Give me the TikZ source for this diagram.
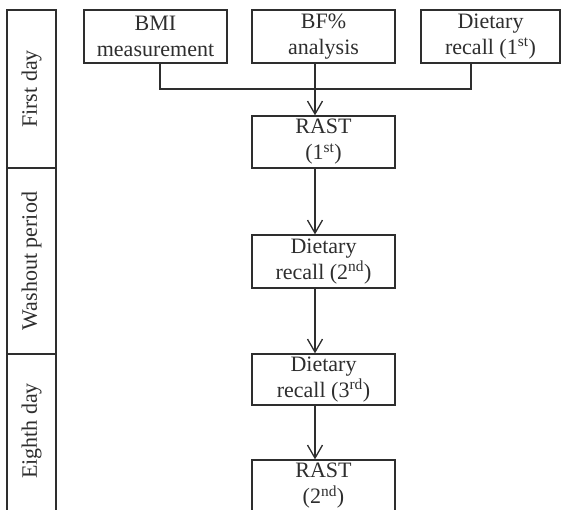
\documentclass[tikz,border=0pt]{standalone}
\usepackage{fontspec}
\setmainfont{Liberation Serif}
\usetikzlibrary{arrows.meta}
\definecolor{ink}{HTML}{2E2E2E}
\tikzset{
  stepbox/.style={draw=ink, line width=1.3pt, inner sep=0pt, align=center,
    minimum width=143pt, text=ink, font=\fontsize{22}{26}\selectfont},
  phase/.style={text=ink, rotate=90, inner sep=0pt, font=\fontsize{22}{26}\selectfont},
  conn/.style={draw=ink, line width=1.3pt},
  arr/.style={conn, -{Straight Barb[length=13pt,width=15pt,line width=1.3pt]}}
}
\begin{document}
\begin{tikzpicture}[x=1pt,y=-1pt]
\useasboundingbox (0,0) rectangle (561,510);
\clip (0,0) rectangle (561,510);
\fill[white] (0,0) rectangle (561,510);
% phase column
\draw[conn] (7,10) rectangle (56,520);
\draw[conn] (7,168) -- (56,168);
\draw[conn] (7,354) -- (56,354);
\node[phase] (p1) at (31.5,89) {First day};
\node[phase] (p2) at (31.5,261) {Washout period};
\node[phase] (p3) at (31.5,431) {Eighth day};
% boxes
\node[stepbox, minimum height=53pt] (bmi) at (155.5,36.5) {BMI\\measurement};
\node[stepbox, minimum height=53pt] (bf) at (323.5,36.5) {BF\%\\analysis};
\node[stepbox, minimum width=139pt, minimum height=53pt] (d1) at (490.5,36.5) {Dietary\\recall (1\textsuperscript{st})};
\node[stepbox, minimum height=52pt] (r1) at (323.5,142) {RAST\\(1\textsuperscript{st})};
\node[stepbox, minimum height=53pt] (d2) at (323.5,261.5) {Dietary\\recall (2\textsuperscript{nd})};
\node[stepbox, minimum height=51pt] (d3) at (323.5,379.5) {Dietary\\recall (3\textsuperscript{rd})};
\node[stepbox, minimum height=52pt] (r2) at (323.5,486) {RAST\\(2\textsuperscript{nd})};
% guide coordinates
\coordinate (xa) at (160,89);
\coordinate (xc) at (315,89);
\coordinate (xd) at (471,89);
% connectors
\draw[conn] (xa |- bmi.south) -- (xa) -- (xd) -- (xd |- d1.south);
\draw[arr] (xc |- bf.south) -- (xc |- r1.north);
\draw[arr] (xc |- r1.south) -- (xc |- d2.north);
\draw[arr] (xc |- d2.south) -- (xc |- d3.north);
\draw[arr] (xc |- d3.south) -- (xc |- r2.north);
\end{tikzpicture}
\end{document}
